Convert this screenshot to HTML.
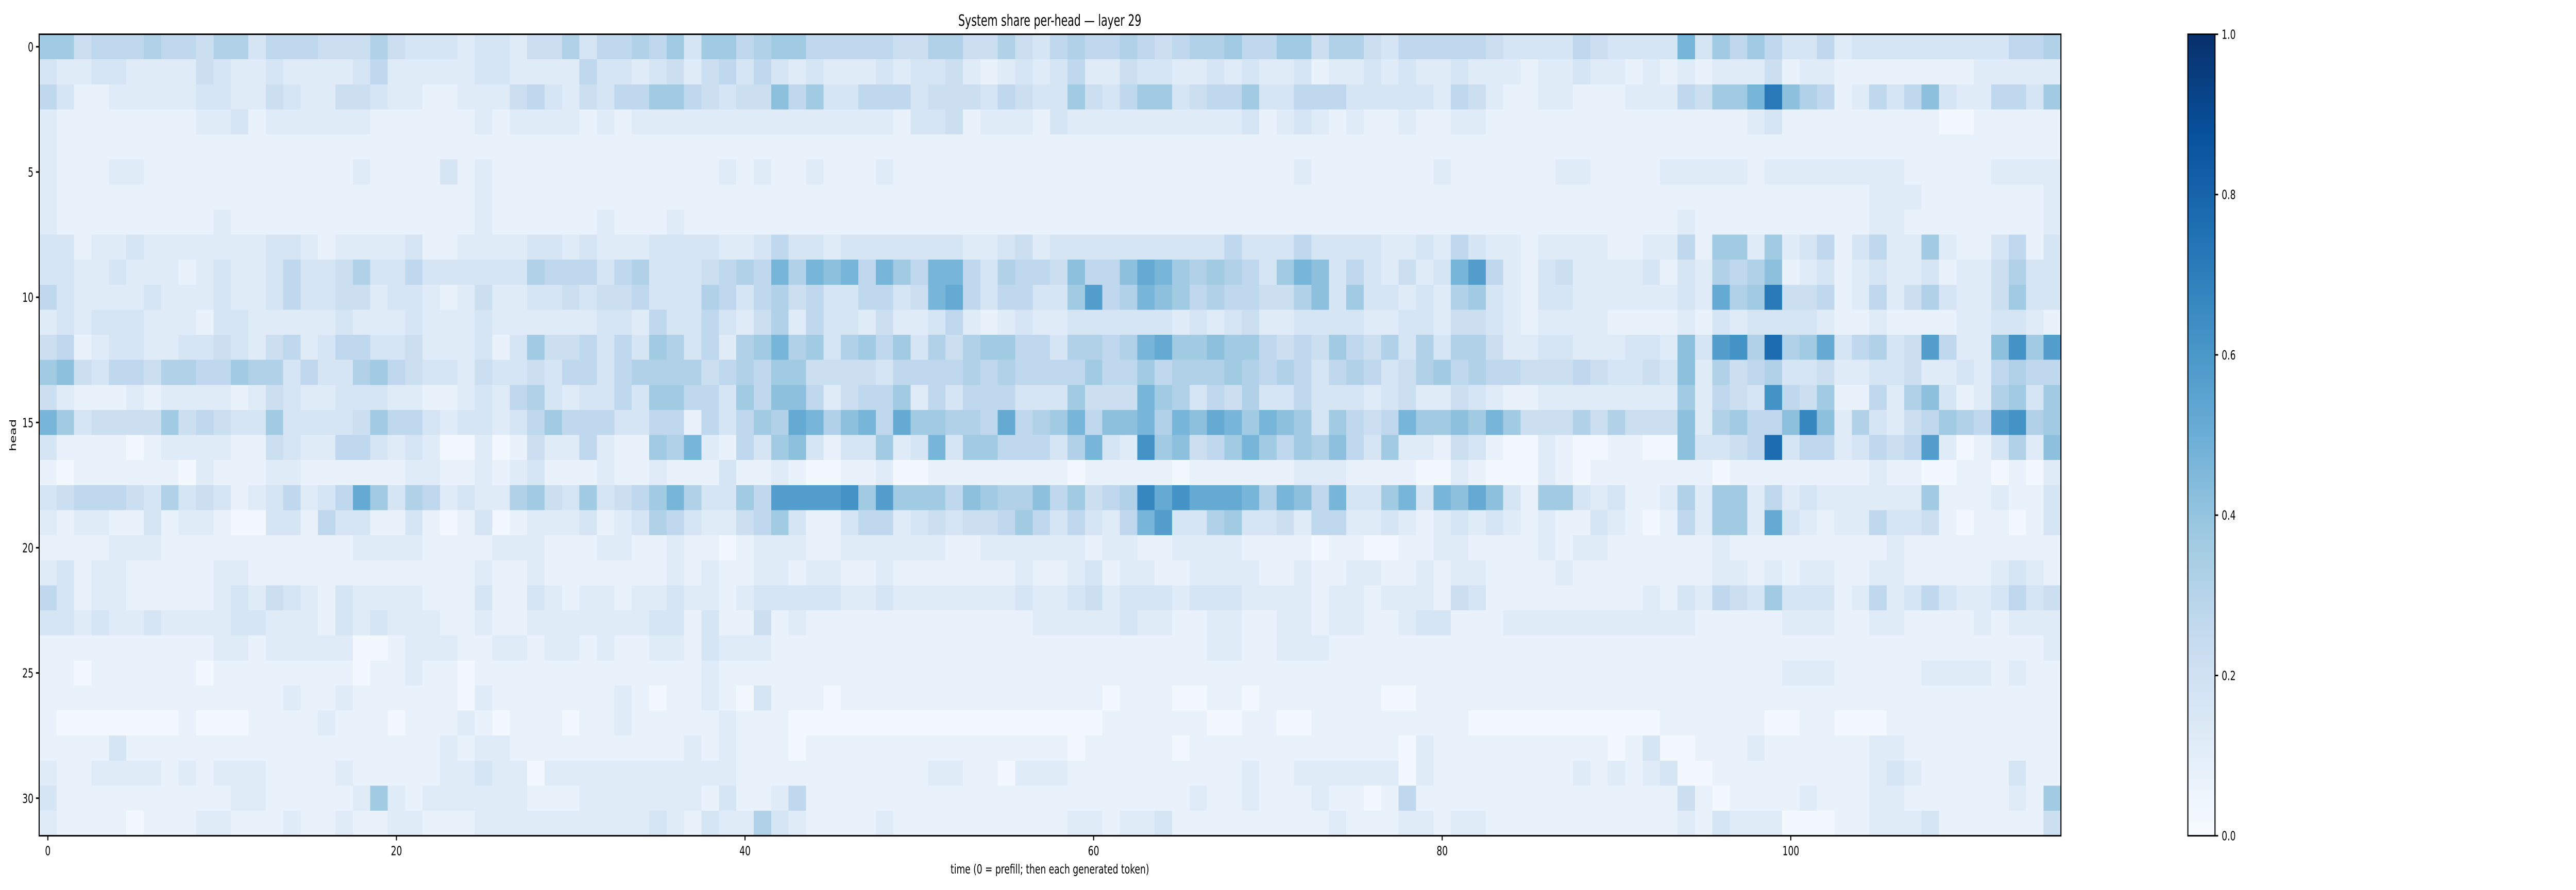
<!DOCTYPE html>
<html><head><meta charset="utf-8"><title>System share per-head — layer 29</title>
<style>
html,body{margin:0;padding:0;background:#fff;overflow:hidden;width:100vw;height:100vh;}
svg{display:block;width:100vw;height:100vh;font-family:"DejaVu Sans","Liberation Sans",sans-serif;}
</style></head>
<body>
<svg id="chart" viewBox="0 0 7307 1728" preserveAspectRatio="none" xmlns="http://www.w3.org/2000/svg">
<rect x="0" y="0" width="7307" height="1728" fill="#fff"/>
<text x="2978" y="50" font-size="30" text-anchor="middle" fill="#000">System share per-head — layer 29</text>
<g id="cells" shape-rendering="crispEdges"></g>
<rect x="111" y="66.5" width="5735" height="1556.2" fill="none" stroke="#000" stroke-width="3"/>
<g id="xticks"></g>
<g id="yticks"></g>
<text x="2978" y="1696" font-size="25" text-anchor="middle" fill="#000">time (0 = prefill; then each generated token)</text>
<text x="0" y="0" font-size="25" text-anchor="middle" fill="#000" transform="translate(45,845) rotate(-90)">head</text>
<defs><linearGradient id="cbgrad" x1="0" y1="1" x2="0" y2="0">
<stop offset="0" stop-color="#f7fbff"/><stop offset="0.125" stop-color="#deebf7"/><stop offset="0.25" stop-color="#c6dbef"/><stop offset="0.375" stop-color="#9ecae1"/><stop offset="0.5" stop-color="#6baed6"/><stop offset="0.625" stop-color="#4292c6"/><stop offset="0.75" stop-color="#2171b5"/><stop offset="0.875" stop-color="#08519c"/><stop offset="1" stop-color="#08306b"/>
</linearGradient></defs>
<rect x="6206" y="66.5" width="77" height="1556.2" fill="url(#cbgrad)" stroke="#000" stroke-width="3"/>
<g id="cbticks"></g>
</svg>
<script>
// heatmap data: one string per head row, each char a level (a=0.02, b=0.07, c=0.12 ... step 0.05)
const headRows = [
"hhefffgffeggdfffeeeg"+"edddcddceegdffgfhdhh"+"fghhfffffeeggeegedfg"+"ffgfefgghffhheggedff"+"fffeddddfeddddjdhfhf"+"ddfcdddddddddffg",
"dccddccccedccdccccdf"+"cccccddccccfddcdecef"+"dfdcdcccdcddecbcdcdf"+"cceddccdcdccdbccdcdc"+"cdcccbccdccbcbcbccce"+"bccbbbbbbbbccccc",
"fdbbcccccddccedcceed"+"ccbbcccefdcedffhhfed"+"eeifhddfffdeeedfeddh"+"edfhhdeffhddfffddddd"+"cfecbbccbbbcccfehhjo"+"igfbcfdfidccffdh",
"cbbbbbbbbccdbccccccb"+"bbbbbcbccccbcbcccccc"+"cccccccccbddebcccbdc"+"cccccccccdbcdcbcbbcb"+"bccbbbbbbbbbbbbbbbcd"+"bbbbbbbbbaabbbbb",
"cbbbbbbbbbbbbbbbbbbb"+"bbbbbbbbbbbbbbbbbbbb"+"bbbbbbbbbbbbbbbbbbbb"+"bbbbbbbbbbbbbbbbbbbb"+"bbbbbbbbbbbbbbbbbbbb"+"bbbbbbbbbbbbbbbb",
"cbbbccbbbbbbbbbbbbcb"+"bbbdbcbbbbbbbbbbbbbc"+"bcbbcbbbcbbbbbbbbbbb"+"bbbbbbbbbbbbcbbbbbbb"+"cbbbbbbccbbbbcccccbc"+"cccccccbbbbbcccc",
"cbbbbbbbbbbbbbbbbbbb"+"bbbbbcbbbbbbbbbbbbbb"+"bbbbbbbbbbbbbbbbbbbb"+"bbbbbbbbbbbbbbbbbbbb"+"bbbbbbbbbbbbbbbbbbbb"+"bbbbbcccbbbbbbbc",
"cbbbbbbbbbcbbbbbbbbb"+"bbbbbcbbbbbbcbbbcbbb"+"bbbbbbbbbbbbbbbbbbbb"+"bbbbbbbbbbbbbbbbbbbb"+"bbbbbbbbbbbbbbcbbbbb"+"bbbbbccbbbbbbbbc",
"ddbccdcccccccddcbccc"+"cdbbccccddcdcccddddc"+"cdfddcdddddddccdecdd"+"ddddddddfdddfddddccd"+"cfdccbccccbbccfbhhch"+"cdfbdfcchcbbdfbd",
"ddccdcccbcdccdfddegd"+"dfddddddgfffdfgdddef"+"gfjgjijfjhfjjfdgffei"+"ffikjhghgfdhjidfdcec"+"djlfcbdeccccdbdcgfgi"+"bcdbcdccdbccegdd",
"fdccccdcccdccdfddeec"+"ddcbceccddedeefdddgf"+"dfgefddffdejkfdffddh"+"lfgjihfgffeegidhddcd"+"cghdcbddccccccdckgho"+"eefbcfcegdccehdd",
"cdcdddcccbddcccccdcc"+"cdcccdccccccddcfddfd"+"cegcfddceccdfcbcdccd"+"dddddcdcdeccddddccdd"+"ceedcbccccbbbbcbdcdd"+"ddcbbcbbbbccddcb",
"efbcddccddedcefcdffd"+"decccdbdheefdfdhgdfc"+"ghjghdghfhdgeghhffdg"+"gfgjkhhihhfefehfegdg"+"dggeccddcccddcidlmgp"+"ghkdfgdelfccimhl",
"hiedffeggffhggdfddgh"+"feddceddedffdfggggef"+"gfhheeeedffffgfgffff"+"hffhfggghgfgfdfgfdeg"+"hfgffeeefeddedicgefg"+"ddeccddeccdcfgff",
"ecbbbcbccccbcedccddd"+"ccbbcdcfgdcddfdhhffd"+"hfiifceffhcfdfffdddh"+"eeejhgdfegddfdddcdec"+"cedcbbcccccccchcfedm"+"fehbbfcgidbcghdh",
"jhdeeeehefeddhddddeh"+"ffdcddcdfhfffddffbfd"+"fhgkjgijfkhhggfkfghj"+"fiijgjikjhjihdhfefjh"+"hihjheeegegeeeicghff"+"inicgdcefhgflmgh",
"dbbbbabccccbbedccffd"+"cdcaacabeccfcbbhgjcb"+"fdhidbddhcdjdhhfffdg"+"jdcmhiefhjhfhgifdhcc"+"bedbaacbaabbaaiddefp"+"dffcdfeflcabdgci",
"babbbbbbacbbbccbbbbb"+"bccbbcbcdbbbcbbcbbbd"+"bbcbaabbcaabbbbbbbba"+"bbbbbabbbbbbcccbbbba"+"acbaaacbabbbbbbbabbb"+"bbbbbcbbaabbabac",
"defffedgdedbcdfcdfkh"+"dgfcdccghedhdefhjgdd"+"hfllllmhlhhhfihggifh"+"efgnkmkkkjgjifjddhjd"+"jikidbhhdcdbbcgchhcf"+"cdcccccchbbbcbbd",
"cbccbbdbccbaaddbfddb"+"bdbabdabcccdbcdgfdcc"+"efhdbbdffcdedeefhfdf"+"dcfjlddghddecffccdcb"+"cdcdcbcbbdcbabfchhck"+"dcbccfddebabbabd",
"bbbbcccbbbbbbbbbbbcc"+"ccbbbbcccbbbccbbcbba"+"bcccbbccccccbbcccccc"+"bccbbccccbbbbabbaabb"+"ccbbbbcbccbbbbbbcbbb"+"bbbbbbcbbbbbbbbb",
"cdbccbbbbbccbbbbbbbb"+"bbbbbcbbcbbbbbbbcbcb"+"bccbccbbcbbbbbbbcbbc"+"dbccbbccccbbcbbccbbc"+"bccbbbbcbbbbbbbbccbc"+"bccbbccbbbbbcdcb",
"fdbccbbbbbcdcedcbdcc"+"ccbbbdbbdcbccbccdccb"+"cdddddccdcccccccdccd"+"ecdddcdddccccbccbccc"+"bedbbbbbbbbbcbdcfedh"+"dddbcfcdfdccdfde",
"ddcdccdccccddcccbdcd"+"cccbbcbbcccccccddbdb"+"bebcbbbbbbbbbbbbbccc"+"ccdccbbccbbccbccbbcd"+"dbbbcccccccccccbbbbb"+"cccbbccbbbbcbccc",
"bbbbbbbbbbccbcccccaa"+"bcccbbccbccbcbbccbdc"+"ccbbbbbbbbbbbbbbbbbb"+"bbbbbbbccbbcccbbbbbb"+"bbbbbbbbbbbbbbbbbbbb"+"bbbbbbbbbbbbbbbc",
"bbabbbbbbabbbbbbbbab"+"bcbbabbbbbbbbbbbbbcb"+"bbbbbbbbbbbbbbbbbbbb"+"bbbbbbbbbbbbbbbbbbbb"+"bbbbbbbbbbbbbbbbbbbb"+"cccbbbbbccccbcbb",
"bbbbbbbbbbbbbbcbbcbb"+"bbbbacbbbbbbbcbabbcb"+"adbbbabbbbbbbbbbbbbb"+"babbbaabbabbbbbbbaab"+"bbbbbbbbbbbbbbbbbbbb"+"bbbbbbbbbbbbbbbb",
"baaaaaaabaaabbbbcbbb"+"abbbcbabbbabbcbbbbbc"+"bbbaaaaaaaaaaaaaaaaa"+"abbbbbbaabbaabbbbbbb"+"bbaaaaaaaaaaabbbbbba"+"abbaaabbbbbbbbbb",
"bbbbdbbbbbbbbbbbbbbb"+"bbbcbccbbbbbbbbbbcbc"+"bbbabbbbbbbbbbbbbbba"+"bbbbbabbbbbbbbbbbbac"+"bbbbbbbbbbabdaabbbcb"+"bbbbbccbbbbbbbbb",
"cbbccccbcbcccbbbbcbb"+"bbbccdccaccccccccccc"+"bbbbbbbbbbbccbbacccb"+"bbbbbbbbbcbbccccccac"+"bbbbbbbbcbcbcdaabbbb"+"bbbbbcdcbbbbbdbb",
"dbbbbbbbbbbccbbbbbch"+"cbccccccbbbcccccccbd"+"bbcfbbbbbbbbbbbbbbbb"+"bbbbbbcbbcbbbcbbabfb"+"bbbbbbbbbbbbbbebabbb"+"bcbbbccbbbbbbcbh",
"cbbbbabbbccbbbcbbcbb"+"ccbbbccccccccccdcbdc"+"cgdcbbbbcbbbbbbbbbbc"+"cbccdbbbbbbbbbcbbbcc"+"bccbbbbbbbbbbbcbdccc"+"aaabbcccdbbbbbbe"
];
const xTickValues = [0, 20, 40, 60, 80, 100];
const yTickValues = [0, 5, 10, 15, 20, 25, 30];
const cbTickValues = [0.0, 0.2, 0.4, 0.6, 0.8, 1.0];
const cbTickLabels = ["0.0", "0.2", "0.4", "0.6", "0.8", "1.0"];
const values = headRows.map(r => r.split("").map(ch => 0.02 + (ch.charCodeAt(0) - 97) * 0.05));

const NS = "http://www.w3.org/2000/svg";
const nRows = values.length, nCols = values[0].length;
const PL = 111, PT = 66.5, PW = 5735, PH = 1556.2;
const cw = PW / nCols, ch = PH / nRows;
const xCenter = c => PL + (c + 0.5) * cw;
const yCenter = r => PT + (r + 0.5) * ch;
const stops = ["#f7fbff","#deebf7","#c6dbef","#9ecae1","#6baed6","#4292c6","#2171b5","#08519c","#08306b"].map(h => [parseInt(h.slice(1,3),16),parseInt(h.slice(3,5),16),parseInt(h.slice(5,7),16)]);
function color(v){
  v = Math.max(0, Math.min(1, v));
  const p = v * 8, i = Math.min(7, Math.floor(p)), t = p - i;
  const a = stops[i], b = stops[i+1];
  return "rgb(" + [0,1,2].map(k => Math.round(a[k] + (b[k]-a[k])*t)).join(",") + ")";
}
const cells = document.getElementById("cells");
for (let r = 0; r < nRows; r++) {
  for (let c = 0; c < nCols; c++) {
    const rect = document.createElementNS(NS, "rect");
    rect.setAttribute("x", (xCenter(c) - cw/2).toFixed(2));
    rect.setAttribute("y", (yCenter(r) - ch/2).toFixed(2));
    rect.setAttribute("width", (cw + 0.6).toFixed(2));
    rect.setAttribute("height", (ch + 0.6).toFixed(2));
    rect.setAttribute("fill", color(values[r][c]));
    
    
    cells.appendChild(rect);
  }
}
function line(g, x1, y1, x2, y2){
  const l = document.createElementNS(NS, "line");
  l.setAttribute("x1", x1); l.setAttribute("y1", y1); l.setAttribute("x2", x2); l.setAttribute("y2", y2);
  l.setAttribute("stroke", "#000"); l.setAttribute("stroke-width", "3");
  
  
  g.appendChild(l);
}
function text(g, x, y, s, anchor, name){
  const t = document.createElementNS(NS, "text");
  t.setAttribute("x", x); t.setAttribute("y", y); t.setAttribute("font-size", "25");
  t.setAttribute("text-anchor", anchor); t.setAttribute("fill", "#000");
  t.textContent = s;
  
  
  g.appendChild(t);
}
const xg = document.getElementById("xticks");
xTickValues.forEach(v => { const x = xCenter(v); line(xg, x, PT+PH, x, PT+PH+9); text(xg, x, PT+PH+38, String(v), "middle", "x-tick-label"); });
const yg = document.getElementById("yticks");
yTickValues.forEach(v => { const y = yCenter(v); line(yg, PL-9, y, PL, y); text(yg, PL-16, y+9, String(v), "end", "y-tick-label"); });
const cg = document.getElementById("cbticks");
cbTickValues.forEach((v, i) => { const y = PT + PH - v*PH; line(cg, 6283, y, 6292, y); text(cg, 6302, y+9, cbTickLabels[i], "start", "colorbar-tick-label"); });
</script>
</body></html>
